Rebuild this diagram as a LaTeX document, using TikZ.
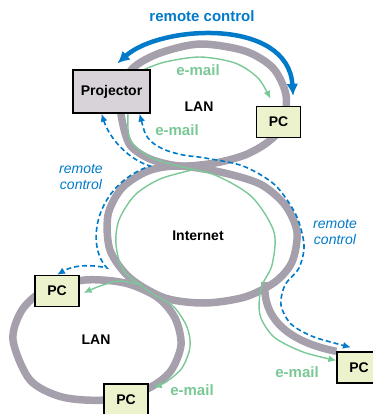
\documentclass[tikz,border=0pt]{standalone}
\usepackage{fontspec}
\setmainfont{Liberation Sans}
\usetikzlibrary{arrows.meta,positioning}
\definecolor{ringgray}{RGB}{165,160,172}
\definecolor{projfill}{RGB}{216,211,216}
\definecolor{pcfill}{RGB}{236,242,204}
\definecolor{rcblue}{RGB}{0,122,201}
\definecolor{mailgreen}{RGB}{122,200,150}
\pgfdeclarelayer{back}
\pgfsetlayers{back,main}

\begin{document}
\begin{tikzpicture}[x=1pt,y=-1pt,
    ring/.style={draw=ringgray,line width=7.5pt},
    box/.style={draw,line width=1.3pt,inner sep=0pt,font=\fontsize{14}{16}\selectfont\bfseries},
    projbox/.style={box,fill=projfill,minimum width=77pt,minimum height=43pt},
    pcbox/.style={box,fill=pcfill,minimum width=44pt,minimum height=31pt},
    mail/.style={draw=mailgreen,line width=1.4pt,-{Latex[length=8pt,width=7pt]}},
    rc/.style={draw=rcblue,line width=1.6pt,dash pattern=on 5pt off 3pt,
        {Latex[length=8pt,width=7pt]}-{Latex[length=8pt,width=7pt]}},
    bigrc/.style={draw=rcblue,line width=4.5pt,
        {Latex[length=12pt,width=12pt]}-{Latex[length=12pt,width=12pt]}},
    lbl/.style={font=\fontsize{14}{16}\selectfont\bfseries},
    maillbl/.style={font=\fontsize{15}{17}\selectfont\bfseries,text=mailgreen},
    rclbl/.style={font=\fontsize{14}{16}\selectfont\itshape,text=rcblue,align=center}]
    \useasboundingbox (0,0) rectangle (372,414);

    % devices
    \node[projbox] (proj) at (111.5,91.5) {Projector};
    \node[pcbox]   (pc1)  at (278.5,122)  {PC};
    \node[pcbox]   (pc2)  at (57,291)     {PC};
    \node[pcbox]   (pc3)  at (359,367.5)  {PC};
    \node[pcbox]   (pc4)  at (126,399.5)  {PC};

    % labels
    \node[lbl,text=rcblue,font=\fontsize{15}{17}\selectfont\bfseries] (rctop) at (202,16) {remote control};
    \node[lbl]     (lantop) at (199,107) {LAN};
    \node[lbl]     (inet)   at (198,236) {Internet};
    \node[lbl]     (lanbot) at (96,340)  {LAN};
    \node[maillbl] (mail1)  at (198,70)  {e-mail};
    \node[maillbl] (mail2)  at (177,130) {e-mail};
    \node[maillbl] (mail3)  at (192,390) {e-mail};
    \node[maillbl] (mail4)  at (297,372) {e-mail};
    \node[rclbl]   (rcleft)  at (81,177)  {remote\\control};
    \node[rclbl]   (rcright) at (335,232) {remote\\control};

    \begin{pgfonlayer}{back}
    % networks
    \draw[ring] plot[smooth cycle] coordinates {(120,92) (133,68) (160,53) (200,44) (245,51)
        (273,68) (286,95) (283,125) (268,142) (245,155) (215,163) (180,166) (150,159)
        (130,145) (122,120)};
    \draw[ring] plot[smooth cycle] coordinates {(178,166) (220,172) (260,184) (285,205)
        (297,232) (292,262) (275,282) (245,297) (205,303) (165,298) (130,278) (110,250)
        (108,215) (122,188) (148,171)};
    \draw[ring] plot[smooth cycle] coordinates {(13,340) (22,310) (45,290) (85,280)
        (125,283) (157,297) (175,318) (181,345) (170,372) (145,390) (105,400) (62,397)
        (30,380)};
    \coordinate (tap) at (265,282);
    \draw[ring] (tap) .. controls (262,320) and (290,342) .. (pc3.north west);

    % e-mail
    \draw[mail] plot[smooth] coordinates {([xshift=-6pt]proj.north east) (165,62) (200,57)
        (235,63) (258,78) ([shift={(-8,-7)}]pc1.north)};
    \draw[mail] plot[smooth] coordinates {([xshift=16.5pt]proj.south) (130,140) (150,157)
        (178,166) (215,175) (252,197) (274,232) (272,265) (261,288) (260,315) (274,337)
        (303,352) ([yshift=7pt]pc3.west)};
    \draw[mail] plot[smooth] coordinates {(192,170) (160,179) (135,195) (119,220) (116,245)
        (124,271) (150,292) (173,306) (187,327) (190,347) (182,368) (166,382)
        ([shift={(5,4)}]pc4.north east)};
    \draw[mail] plot[smooth] coordinates {(142,285) (120,281) (100,286)
        ([shift={(4,2)}]pc2.east)};

    % remote control
    \draw[bigrc] ([shift={(6,-6)}]proj.north) .. controls (160,25) and (288,17)
        .. ([shift={(-8,-10)}]pc1.north east);
    \draw[rc] ([xshift=-10pt]proj.south) .. controls (110,140) and (130,160) .. (150,166)
        .. controls (95,185) and (85,245) .. (107,268)
        .. controls (95,265) and (75,264) .. (pc2.north);
    \draw[rc] plot[smooth] coordinates {([xshift=28pt]proj.south) (148,138) (163,149)
        (183,155) (205,158) (243,166) (275,185) (296,215) (304,245) (299,268) (285,285)
        (281,305) (291,324) (314,337) ([shift={(-8,-4)}]pc3.north)};
    \end{pgfonlayer}
\end{tikzpicture}
\end{document}
